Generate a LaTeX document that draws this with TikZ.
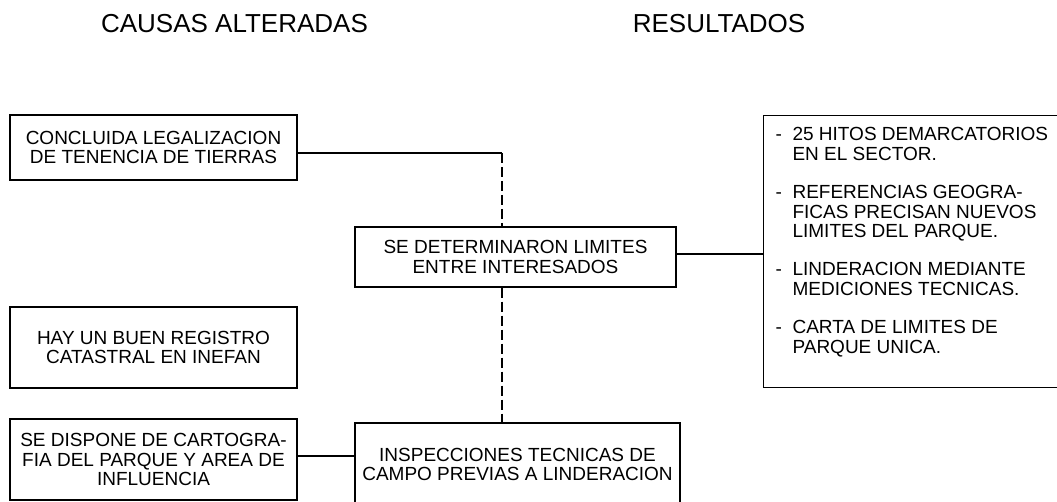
\documentclass[tikz,border=0pt]{standalone}
\usepackage{fontspec}
\setmainfont{Liberation Sans}
\usepackage{tikz}
\usetikzlibrary{positioning, calc}

\newcommand{\boxfont}{\fontsize{19}{19.3}\selectfont}
\newcommand{\headfont}{\fontsize{26}{28}\selectfont}

\begin{document}
\begin{tikzpicture}[x=1pt, y=-1pt, line width=1.1pt,
  head/.style={font=\headfont, inner sep=0pt},
  causebox/.style={draw, rectangle, minimum width=287pt, align=center,
                   font=\boxfont, inner sep=0pt},
  midbox/.style={draw, rectangle, align=center, font=\boxfont, inner sep=0pt},
  link/.style={line width=1.1pt},
  vdash/.style={dash pattern=on 10pt off 4pt}]
\useasboundingbox (0,0) rectangle (1057,502);
\clip (0,0) rectangle (1057,502);

% Column headings
\node[head] (causas) at (234.5,24) {CAUSAS ALTERADAS};
\node[head] (resultados) at (719,24) {RESULTADOS};

% Causes (left column)
\node[causebox, minimum height=65pt] (legal) at (153.5,147.5)
  {CONCLUIDA LEGALIZACION\\DE TENENCIA DE TIERRAS};
\node[causebox, minimum height=81pt] (registro) at (153.5,347.5)
  {HAY UN BUEN REGISTRO\\CATASTRAL EN INEFAN};
\node[causebox, minimum height=81pt] (carto) at (153.5,459.5)
  {SE DISPONE DE CARTOGRA-\\FIA DEL PARQUE Y AREA DE\\INFLUENCIA};

% Middle boxes
\node[midbox, minimum width=321pt, minimum height=60pt] (limites) at (515.5,257)
  {SE DETERMINARON LIMITES\\ENTRE INTERESADOS};
\node[midbox, minimum width=325pt, minimum height=83pt] (inspec) at (517.5,464.5)
  {INSPECCIONES TECNICAS DE\\CAMPO PREVIAS A LINDERACION};

% Results box (runs off the right edge)
\node[draw, rectangle, anchor=north west, minimum width=305pt,
      minimum height=272pt, inner sep=0pt] (result) at (763,115) {};
\node[anchor=north west, align=left, font=\boxfont, inner sep=0pt] (resitems) at (775,127)
  {\makebox[17pt][l]{-}25 HITOS DEMARCATORIOS\\
   \hspace*{17pt}EN EL SECTOR.\\[19.3pt]
   \makebox[17pt][l]{-}REFERENCIAS GEOGRA-\\
   \hspace*{17pt}FICAS PRECISAN NUEVOS\\
   \hspace*{17pt}LIMITES DEL PARQUE.\\[19.3pt]
   \makebox[17pt][l]{-}LINDERACION MEDIANTE\\
   \hspace*{17pt}MEDICIONES TECNICAS.\\[19.3pt]
   \makebox[17pt][l]{-}CARTA DE LIMITES DE\\
   \hspace*{17pt}PARQUE UNICA.};

% Connectors
\coordinate (elbow) at (502,153);
\draw[link] ([yshift=-5.5pt]legal.east) -- (elbow);
\draw[link, vdash] (elbow) -- (elbow |- limites.north);
\draw[link, vdash] (elbow |- limites.south) -- (elbow |- inspec.north);
\draw[link] ([yshift=3pt]limites.east) -- ([yshift=3pt]limites.east -| result.west);
\draw[link] ([yshift=3.5pt]carto.east) -- ([yshift=3.5pt]carto.east -| inspec.west);
\end{tikzpicture}
\end{document}
